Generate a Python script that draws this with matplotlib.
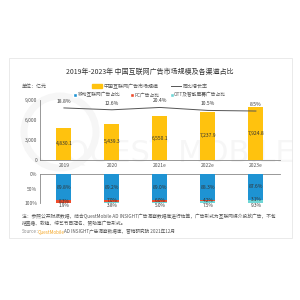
import matplotlib
matplotlib.use("Agg")
import matplotlib.pyplot as plt
from matplotlib.patches import Rectangle, Circle
from matplotlib.lines import Line2D
import numpy as np

plt.rcParams['font.family'] = ['Noto Sans CJK SC', 'DejaVu Sans']

years = ['2019', '2020', '2021e', '2022e', '2023e']
market = [4830.1, 5439.3, 6550.1, 7237.9, 7924.8]
growth = [18.8, 12.6, 20.4, 10.5, 8.5]
mobile = [89.8, 89.2, 89.0, 88.3, 87.6]
pc = [8.3, 7.0, 6.0, 4.2, 3.1]
ott = [1.9, 3.8, 5.0, 7.5, 9.3]

yellow = '#ffc20e'
blue = '#1e93d3'
red = '#ee4b2b'
teal = '#6fd6d6'
grey = '#555555'

fig = plt.figure(figsize=(3, 3), dpi=100)

# card frame
fig.patches.append(Rectangle((0.03, 0.207), 0.943, 0.60, transform=fig.transFigure,
                             fill=False, edgecolor='#e6e6e6', lw=0.6))

# watermark (very faint, behind the axes)
fig.patches.append(Circle((0.2, 0.56), 0.12, transform=fig.transFigure, fill=False,
                          edgecolor='#f6f6f6', lw=5, zorder=-10))
fig.text(0.6, 0.49, 'QUEST MOBILE', fontsize=22, color='#f6f6f6', ha='center',
         va='center', zorder=-10, family='DejaVu Sans')

fig.text(0.5, 0.76, '2019年-2023年 中国互联网广告市场规模及各渠道占比', fontsize=5,
         ha='center', va='center', color='#333333')
fig.text(0.073, 0.713, '单位：亿元', fontsize=3.6, color='#555555', va='center')

x = np.arange(len(years))
w = 0.31

# top panel
ax = fig.add_axes([0.133, 0.467, 0.8, 0.2])
ax.bar(x, market, width=w, color=yellow, zorder=3)
for i, v in enumerate(market):
    ax.text(x[i], v / 2, f'{v:,.1f}', ha='center', va='center', fontsize=3.6, color='#333333', zorder=4)
ax.set_xlim(-0.5, 4.5)
ax.set_ylim(0, 9000)
ax.set_yticks([0, 3000, 6000, 9000])
ax.set_yticklabels(['0', '3,000', '6,000', '9,000'])
ax.set_xticks(x)
ax.set_xticklabels(years)
ax.tick_params(labelsize=3.6, colors='#555555', length=0, pad=2)
for s in ['top', 'right']:
    ax.spines[s].set_visible(False)
for s in ['left', 'bottom']:
    ax.spines[s].set_color('#888888')
    ax.spines[s].set_linewidth(0.6)
ax.patch.set_alpha(0)

ax2 = ax.twinx()
ax2.plot(x, growth, color=grey, lw=0.7)
ax2.set_ylim(-154, 45.5)
ax2.axis('off')
for i, g in enumerate(growth):
    ax2.annotate(f'{g}%', (x[i], g), xytext=(0, 3), textcoords='offset points',
                 ha='center', va='bottom', fontsize=3.6, color='#333333')

# bottom panel
bx = fig.add_axes([0.133, 0.323, 0.8, 0.096])
bx.bar(x, mobile, width=w, color=blue, zorder=3)
bx.bar(x, pc, width=w, bottom=mobile, color=red, zorder=3)
bx.bar(x, ott, width=w, bottom=np.add(mobile, pc), color=teal, zorder=3)
for i in range(len(years)):
    bx.text(x[i], mobile[i] / 2, f'{mobile[i]}%', ha='center', va='center', fontsize=3.6, color='#333333', zorder=4)
    bx.text(x[i], mobile[i] + pc[i] / 2 - 1, f'{pc[i]}%', ha='center', va='center', fontsize=3.4, color='#333333', zorder=4)
    bx.text(x[i], 100, f'{ott[i]}%', ha='center', va='top', fontsize=3.4, color='#333333', zorder=4, clip_on=False)
bx.set_xlim(-0.5, 4.5)
bx.set_ylim(100, 0)
bx.set_yticks([0, 50, 100])
bx.set_yticklabels(['0%', '50%', '100%'])
bx.set_xticks([])
bx.tick_params(labelsize=3.6, colors='#555555', length=0, pad=2)
for s in ['bottom', 'right']:
    bx.spines[s].set_visible(False)
for s in ['left', 'top']:
    bx.spines[s].set_color('#888888')
    bx.spines[s].set_linewidth(0.6)
bx.patch.set_alpha(0)

# legends
h1 = [Rectangle((0, 0), 1, 1, color=yellow), Line2D([0], [0], color=grey, lw=0.7)]
fig.legend(h1, ['中国互联网广告市场规模', '同比增长率'], loc='center', bbox_to_anchor=(0.5, 0.713),
           ncol=2, frameon=False, fontsize=3.6, handlelength=2.0, handleheight=0.8,
           columnspacing=2.5, handletextpad=0.3, labelcolor='#555555')
h2 = [Line2D([0], [0], marker='s', color='w', markerfacecolor=c, markersize=2.2) for c in [blue, red, teal]]
fig.legend(h2, ['移动互联网广告占比', 'PC广告占比', 'OTT及智能屏幕广告占比'], loc='center',
           bbox_to_anchor=(0.5, 0.683), ncol=3, frameon=False, fontsize=3.4, handlelength=0.6,
           columnspacing=2.2, handletextpad=0.2, labelcolor='#555555')

# notes
fig.text(0.073, 0.277, '注：参照公开财报数据，结合QuestMobile AD INSIGHT广告洞察数据库进行估算，广告形式为互联网媒介投放广告，不包',
         fontsize=3.4, color='#555555', va='center')
fig.text(0.073, 0.254, '括直播、软植、综艺节目冠名、赞助等广告形式。', fontsize=3.4, color='#555555', va='center')
fig.text(0.073, 0.229, 'Source：', fontsize=3.3, color='#888888', va='center')
fig.text(0.127, 0.229, 'QuestMobile', fontsize=3.3, color='#f5a623', va='center')
fig.text(0.212, 0.229, 'AD INSIGHT广告洞察数据库，营销研究院 2021年12月', fontsize=3.3, color='#555555', va='center')

fig.savefig('out.png', dpi=100)
